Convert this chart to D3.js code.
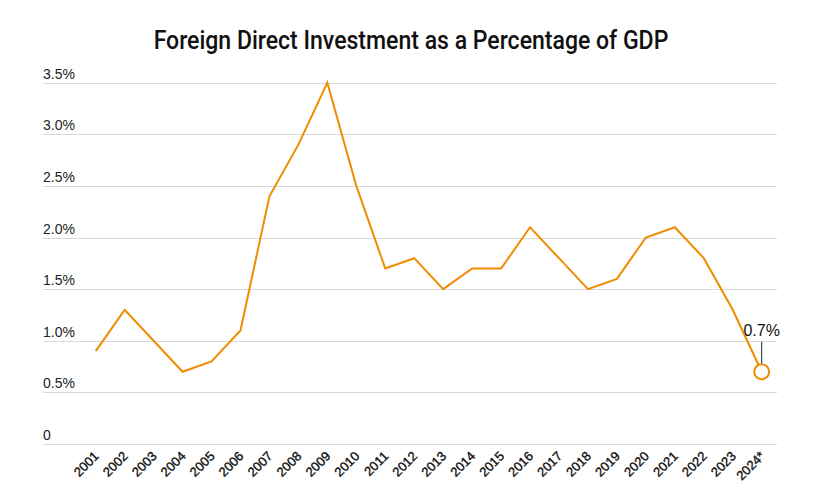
<!DOCTYPE html>
<html>
<head>
<meta charset="utf-8">
<script src="https://cdn.jsdelivr.net/npm/d3@7"></script>
<style>
  html, body { margin: 0; padding: 0; background: #fff; }
  svg { display: block; }
</style>
</head>
<body>
<div id="chart"></div>
<script>
const title = "Foreign Direct Investment as a Percentage of GDP";
const years = ["2001","2002","2003","2004","2005","2006","2007","2008","2009","2010","2011","2012","2013","2014","2015","2016","2017","2018","2019","2020","2021","2022","2023","2024*"];
const fdiPct = [0.9,1.3,1.0,0.7,0.8,1.1,2.4,2.9,3.5,2.5,1.7,1.8,1.5,1.7,1.7,2.1,1.8,1.5,1.6,2.0,2.1,1.8,1.3,0.7];
const yTicks = [0,0.5,1.0,1.5,2.0,2.5,3.0,3.5];
const yTickLabels = ["0","0.5%","1.0%","1.5%","2.0%","2.5%","3.0%","3.5%"];
const lastLabel = "0.7%";

const W = 821, H = 495;
const svg = d3.select("#chart").append("svg").attr("width", W).attr("height", H);

const gridLeft = 43, gridRight = 777;
const x = d3.scalePoint().domain(years).range([95.7, 761.7]);
const y = d3.scaleLinear().domain([0, 3.5]).range([444, 82.7]);

// title (condensed look: scale horizontally to reference width)
const tg = svg.append("g");
const t = tg.append("text")
  .attr("x", 0).attr("y", 0)
  .attr("text-anchor", "middle")
  .attr("font-family", "Roboto, sans-serif")
  .attr("font-weight", 500)
  .attr("font-size", 25)
  .attr("fill", "#111")
  .text(title);
const tw = t.node().getComputedTextLength();
tg.attr("transform", `translate(411,49) scale(${515 / tw},1)`);

// gridlines
svg.append("g").selectAll("line").data(yTicks).join("line")
  .attr("x1", gridLeft).attr("x2", gridRight)
  .attr("y1", d => Math.round(y(d)) + 0.5).attr("y2", d => Math.round(y(d)) + 0.5)
  .attr("stroke", "#d9d9d9").attr("stroke-width", 1);

// y labels
svg.append("g").selectAll("text").data(yTicks).join("text")
  .attr("x", gridLeft).attr("y", d => y(d) - 4)
  .attr("font-family", "Liberation Sans, Arial, sans-serif")
  .attr("font-size", 14)
  .attr("fill", "#222")
  .text((d, i) => yTickLabels[i]);

// x labels
svg.append("g").selectAll("text").data(years).join("text")
  .attr("transform", d => `translate(${x(d) + 4},${457}) rotate(-45)`)
  .attr("text-anchor", "end")
  .attr("font-family", "Liberation Sans, Arial, sans-serif")
  .attr("font-size", 13)
  .attr("fill", "#111")
  .attr("stroke", "#111")
  .attr("stroke-width", 0.35)
  .text(d => d);

// line
const line = d3.line().x((d, i) => x(years[i])).y(d => y(d));
svg.append("path")
  .datum(fdiPct)
  .attr("d", line)
  .attr("fill", "none")
  .attr("stroke", "#f08c00")
  .attr("stroke-width", 2)
  .attr("stroke-linejoin", "miter");

// end annotation
const lx = x(years[years.length - 1]);
const ly = y(fdiPct[fdiPct.length - 1]);
svg.append("line")
  .attr("x1", lx).attr("x2", lx)
  .attr("y1", ly - 30).attr("y2", ly - 8)
  .attr("stroke", "#222").attr("stroke-width", 1);
svg.append("circle")
  .attr("cx", lx).attr("cy", ly).attr("r", 7.5)
  .attr("fill", "#fff").attr("stroke", "#f08c00").attr("stroke-width", 2);
svg.append("text")
  .attr("x", lx).attr("y", ly - 36)
  .attr("text-anchor", "middle")
  .attr("font-family", "Liberation Sans, Arial, sans-serif")
  .attr("font-size", 16)
  .attr("fill", "#111")
  .text(lastLabel);
</script>
</body>
</html>
